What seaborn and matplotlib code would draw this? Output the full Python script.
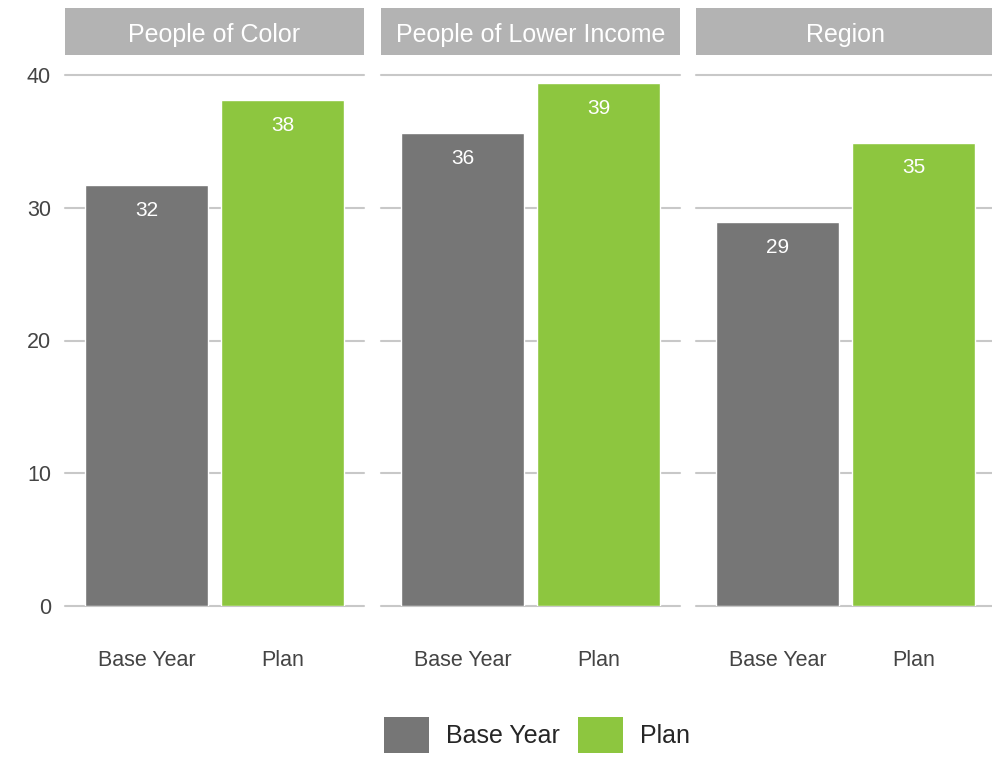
import pandas as pd
import matplotlib.pyplot as plt
import seaborn as sns
from matplotlib.patches import Patch

# -----------------------------
# DATA
# -----------------------------

groups = ["People of Color", "People of Lower Income", "Region"]
conditions = ["Base Year", "Plan"]
base_year = [31.7, 35.6, 28.9]
plan = [38.1, 39.4, 34.9]
y_ticks = [0, 10, 20, 30, 40]

colors = {"Base Year": "#767676", "Plan": "#8dc63f"}

df = pd.DataFrame({
    "group": [g for g in groups for _ in conditions],
    "condition": conditions * len(groups),
    "value": [v for pair in zip(base_year, plan) for v in pair],
})

# -----------------------------
# STYLE
# -----------------------------

sns.set_theme(style="white")
plt.rcParams['font.family'] = ['Liberation Sans', 'DejaVu Sans']

W, H = 992, 757
fig = plt.figure(figsize=(W / 100, H / 100), dpi=100)

panel_left = [65, 381, 696]
panel_w = 299
y_bottom, y_top = 606, 75
strip_top, strip_bottom = 8, 55

for i, g in enumerate(groups):
    ax = fig.add_axes([
        panel_left[i] / W,
        (H - y_bottom) / H,
        panel_w / W,
        (y_bottom - y_top) / H,
    ])
    sub = df[df["group"] == g]

    sns.barplot(
        data=sub,
        x="condition",
        y="value",
        hue="condition",
        order=conditions,
        hue_order=conditions,
        palette=colors,
        saturation=1,
        width=0.9,
        legend=False,
        ax=ax,
    )

    for c in ax.containers:
        ax.bar_label(
            c,
            fmt='%.0f',
            padding=-25,
            color='white',
            fontsize=15,
        )

    ax.set_xlim(-0.6, 1.6)
    ax.set_ylim(0, 40)
    ax.set_yticks(y_ticks)
    ax.yaxis.grid(True, color='#c8c8c8', linewidth=1.5)
    ax.set_axisbelow(True)
    for gl in ax.get_ygridlines():
        gl.set_clip_on(False)
    for s in ax.spines.values():
        s.set_visible(False)
    ax.set_xlabel("")
    ax.set_ylabel("")
    ax.tick_params(axis='x', length=0, pad=32, labelsize=15.5, labelcolor='#444444')
    if i == 0:
        ax.tick_params(axis='y', length=0, pad=10, labelsize=15.5, labelcolor='#444444')
    else:
        ax.tick_params(axis='y', length=0, labelleft=False)

    # facet strip
    sax = fig.add_axes([
        panel_left[i] / W,
        (H - strip_bottom) / H,
        panel_w / W,
        (strip_bottom - strip_top) / H,
    ])
    sax.set_facecolor('#b3b3b3')
    sax.set_xticks([])
    sax.set_yticks([])
    for s in sax.spines.values():
        s.set_visible(False)
    sax.text(0.5, 0.42, g, ha='center', va='center', color='white',
             fontsize=18, transform=sax.transAxes)

# -----------------------------
# LEGEND
# -----------------------------

handles = [Patch(facecolor=colors[c], edgecolor='none', label=c) for c in conditions]
fig.legend(
    handles=handles,
    loc='center',
    bbox_to_anchor=(537 / W, (H - 735) / H),
    ncol=2,
    frameon=False,
    fontsize=18,
    handlelength=1.8,
    handleheight=1.8,
    handletextpad=0.7,
    columnspacing=0.7,
)

fig.savefig("out.png", dpi=100)
